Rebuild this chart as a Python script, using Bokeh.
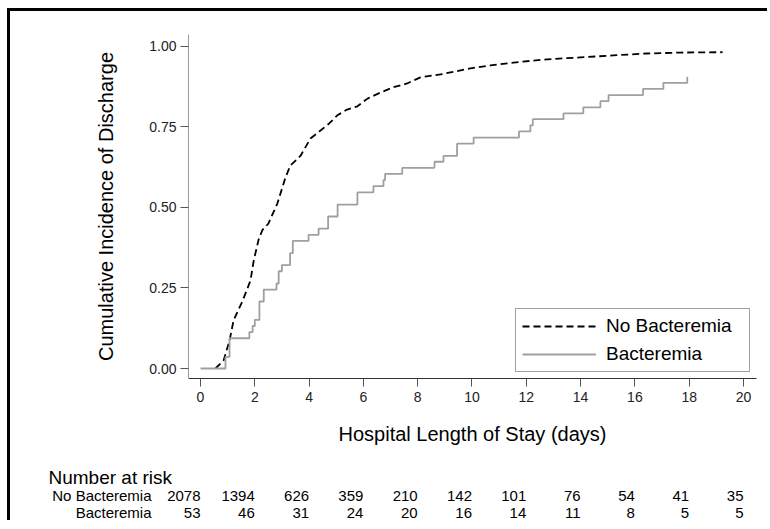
from bokeh.plotting import figure
from bokeh.layouts import column
from bokeh.models import (ColumnDataSource, FixedTicker, NumeralTickFormatter, Legend,
                          LegendItem, Range1d)
from bokeh.core.properties import value
from bokeh.embed import file_html
from bokeh.resources import INLINE

# ---- data ----
no_bact_t = [0.55, 0.85, 1.07, 1.22, 1.55, 1.84, 1.96, 2.14, 2.28, 2.50, 2.83, 3.13, 3.31,
             3.68, 4.05, 4.42, 4.73, 5.04, 5.40, 5.78, 6.15, 6.63, 7.10, 7.61, 8.10, 8.84,
             9.94, 10.68, 11.53, 12.77, 14.00, 15.20, 16.45, 17.68, 19.23]
no_bact_v = [0.000, 0.025, 0.087, 0.150, 0.210, 0.273, 0.335, 0.400, 0.430, 0.450, 0.512,
             0.593, 0.630, 0.660, 0.714, 0.739, 0.760, 0.786, 0.804, 0.814, 0.838, 0.857,
             0.873, 0.885, 0.904, 0.913, 0.932, 0.941, 0.950, 0.960, 0.966, 0.972, 0.978,
             0.981, 0.982]

bact_t = [0.00, 0.92, 1.07, 1.80, 1.92, 2.00, 2.17, 2.33, 2.80, 2.88, 3.00, 3.30, 3.40,
          3.98, 4.35, 4.70, 5.05, 5.78, 6.37, 6.74, 6.80, 7.43, 8.62, 8.95, 9.45, 10.06,
          11.73, 12.15, 12.24, 13.37, 14.10, 14.73, 15.03, 16.30, 17.05, 17.93]
bact_v = [0.000, 0.036, 0.094, 0.113, 0.132, 0.151, 0.208, 0.245, 0.264, 0.302, 0.321,
          0.358, 0.396, 0.415, 0.434, 0.472, 0.509, 0.547, 0.566, 0.585, 0.604, 0.623,
          0.642, 0.660, 0.698, 0.717, 0.736, 0.755, 0.774, 0.792, 0.811, 0.830, 0.849,
          0.868, 0.887, 0.906]

risk_times = [0, 2, 4, 6, 8, 10, 12, 14, 16, 18, 20]
risk_no_bact = [2078, 1394, 626, 359, 210, 142, 101, 76, 54, 41, 35]
risk_bact = [53, 46, 31, 24, 20, 16, 14, 11, 8, 5, 5]

x_ticks = [0, 2, 4, 6, 8, 10, 12, 14, 16, 18, 20]
y_ticks = [0.0, 0.25, 0.50, 0.75, 1.00]

series_labels = ["No Bacteremia", "Bacteremia"]
table_title = "Number at risk"

FONT = "Liberation Sans"

# ---- layout constants (pixels) ----
W = 757
H1 = 439
H2 = 70
X_START, X_END = -0.442, 20.479
FRAME_L, FRAME_R = 178, 11
PX_PER_DAY = (W - FRAME_L - FRAME_R) / (X_END - X_START)

p = figure(width=W, height=H1, output_backend="svg", toolbar_location=None,
           x_range=Range1d(X_START, X_END), y_range=Range1d(-0.031, 1.037),
           min_border_left=FRAME_L, min_border_right=FRAME_R, min_border_top=23,
           min_border_bottom=72)
p.frame_align = False
p.background_fill_color = "white"
p.border_fill_color = "white"
p.outline_line_color = None
p.xgrid.visible = False
p.ygrid.visible = False

r1 = p.line(no_bact_t, no_bact_v, line_color="black", line_dash="7 4", line_width=1.8)
r2 = p.step(bact_t, bact_v, mode="after", line_color="#9f9f9f", line_width=1.8)

# axes
p.xaxis.ticker = FixedTicker(ticks=x_ticks)
p.yaxis.ticker = FixedTicker(ticks=y_ticks)
p.yaxis.formatter = NumeralTickFormatter(format="0.00")
for ax in (p.xaxis[0], p.yaxis[0]):
    ax.minor_tick_line_color = None
    ax.major_tick_in = 0
    ax.major_tick_out = 8
    ax.major_tick_line_color = "#555555"
    ax.major_label_text_font = FONT
    ax.major_label_text_font_size = "14px"
    ax.major_label_text_color = "#222222"
    ax.axis_label_text_font = FONT
    ax.axis_label_text_font_size = "20px"
    ax.axis_label_text_font_style = "normal"
    ax.axis_label_text_color = "black"
p.xaxis.axis_line_color = "#333333"
p.yaxis.axis_line_color = "#999999"
p.xaxis.major_label_standoff = 5
p.yaxis.major_label_standoff = 4
p.xaxis.axis_label = "Hospital Length of Stay (days)"
p.yaxis.axis_label = "Cumulative Incidence of Discharge"
p.xaxis.axis_label_standoff = 18
p.yaxis.axis_label_standoff = 29

legend = Legend(items=[LegendItem(label=series_labels[0], renderers=[r1]),
                       LegendItem(label=series_labels[1], renderers=[r2])],
                location="bottom_right", margin=6, padding=6, spacing=6,
                glyph_width=74, glyph_height=20, label_height=20, label_width=137,
                label_standoff=10, label_text_font=FONT, label_text_font_size="19px",
                label_text_color="black", border_line_color="#444444",
                border_line_width=1, background_fill_color="white",
                background_fill_alpha=1.0)
p.add_layout(legend)

# ---- number at risk table: second panel sharing the same x scale ----
t_left = X_START - FRAME_L / PX_PER_DAY
t_right = t_left + W / PX_PER_DAY
p2 = figure(width=W, height=H2, output_backend="svg", toolbar_location=None,
            x_range=Range1d(t_left, t_right), y_range=Range1d(H2, 0),
            x_axis_type=None, y_axis_type=None, min_border=0,
            min_border_left=0, min_border_right=0, min_border_top=0,
            min_border_bottom=0)
p2.frame_align = False
p2.outline_line_color = None
p2.xgrid.visible = False
p2.ygrid.visible = False
p2.background_fill_color = "white"
p2.border_fill_color = "white"

HEAD_Y, ROW1_Y, ROW2_Y = 27, 45, 62
LABEL_X = -1.805
HEAD_X = -5.60

src1 = ColumnDataSource(dict(t=risk_times, y=[ROW1_Y] * len(risk_times),
                             n=[str(v) for v in risk_no_bact]))
src2 = ColumnDataSource(dict(t=risk_times, y=[ROW2_Y] * len(risk_times),
                             n=[str(v) for v in risk_bact]))
for src in (src1, src2):
    p2.text(x="t", y="y", text="n", source=src, text_align="right",
            text_baseline="middle", text_font=value(FONT), text_font_size="15px",
            text_color="black")

p2.text(x=[HEAD_X], y=[HEAD_Y], text=[table_title], text_align="left",
        text_baseline="middle", text_font=value(FONT), text_font_size="19px",
        text_color="black")
p2.text(x=[LABEL_X, LABEL_X], y=[ROW1_Y, ROW2_Y], text=series_labels, text_align="right",
        text_baseline="middle", text_font=value(FONT), text_font_size="15px",
        text_color="black")

layout = column(p, p2, spacing=0)
layout.styles = {"margin-left": "7px", "margin-top": "8px",
                 "border-top": "3px solid black", "border-left": "3px solid black"}
open("out.html", "w").write(file_html(layout, INLINE))
